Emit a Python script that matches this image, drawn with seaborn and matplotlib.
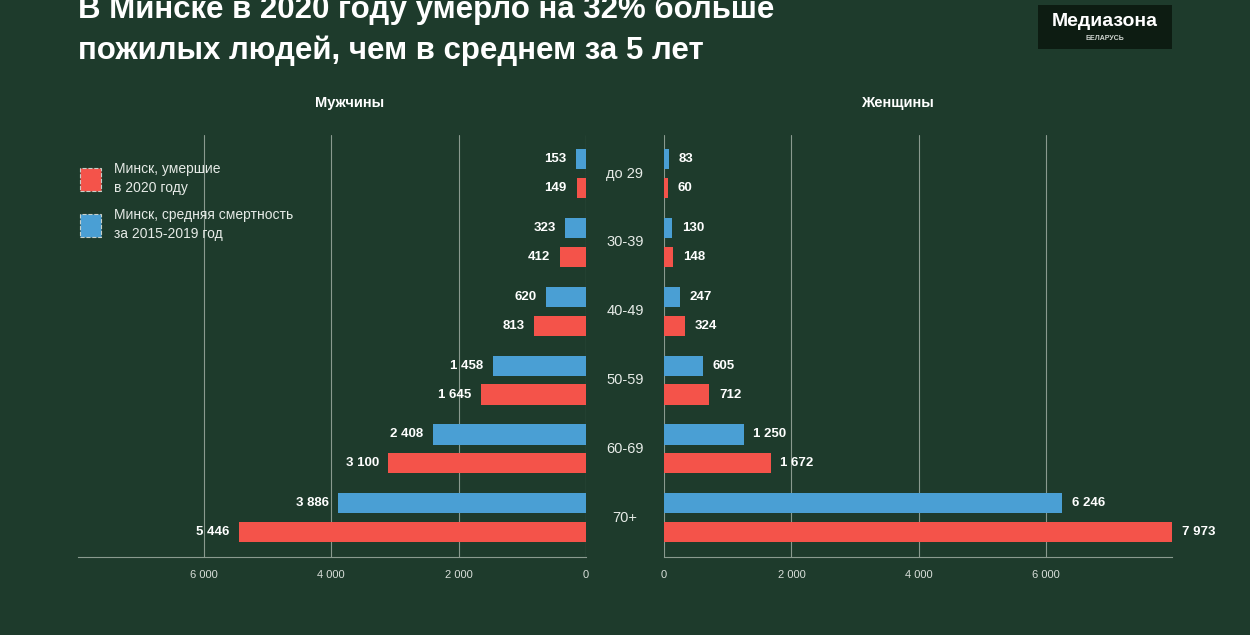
import pandas as pd
import matplotlib.pyplot as plt
import seaborn as sns
from matplotlib.patches import Patch, Rectangle
from matplotlib.ticker import FuncFormatter
from matplotlib.transforms import blended_transform_factory

# data
ages = ['до 29', '30-39', '40-49', '50-59', '60-69', '70+']
men2020 = [149, 412, 813, 1645, 3100, 5446]
menAvg = [153, 323, 620, 1458, 2408, 3886]
women2020 = [60, 148, 324, 712, 1672, 7973]
womenAvg = [83, 130, 247, 605, 1250, 6246]
tickVals = [0, 2000, 4000, 6000]
seriesNames = ['avg', 'y2020']

BG = '#1e3b2c'
RED = '#f4534a'
BLUE = '#4a9fd4'
GRID = '#8a9a8f'

sns.set_theme(style='dark')
plt.rcParams['font.family'] = ['Liberation Sans', 'DejaVu Sans']


def longForm(avg, cur):
    rows = []
    for a, v1, v2 in zip(ages, avg, cur):
        rows.append({'age': a, 'series': 'avg', 'value': v1})
        rows.append({'age': a, 'series': 'y2020', 'value': v2})
    return pd.DataFrame(rows)


dfMen = longForm(menAvg, men2020)
dfWomen = longForm(womenAvg, women2020)

fig = plt.figure(figsize=(12.5, 6.35), dpi=100, facecolor=BG)
W, H = 1250, 635
axL = fig.add_axes([78 / W, (H - 557) / H, 508 / W, 422 / H])
axR = fig.add_axes([664 / W, (H - 557) / H, 508 / W, 422 / H])

fmt = FuncFormatter(lambda v, p: f'{int(v):,}'.replace(',', ' '))
xmax = max(women2020)

for ax, df, side in [(axL, dfMen, 'L'), (axR, dfWomen, 'R')]:
    ax.set_facecolor(BG)
    sns.barplot(data=df, y='age', x='value', hue='series', hue_order=seriesNames,
                palette=[BLUE, RED], orient='h', width=0.84, gap=0.3,
                legend=False, ax=ax, saturation=1, linewidth=0)
    ax.set_xlim(0, xmax)
    ax.set_ylim(5.57, -0.56)
    if side == 'L':
        ax.invert_xaxis()
    ax.set_xticks(tickVals)
    ax.xaxis.set_major_formatter(fmt)
    ax.tick_params(axis='x', colors='#d8ded9', labelsize=8, length=0, pad=9)
    ax.set_yticks([])
    ax.set_xlabel('')
    ax.set_ylabel('')
    ax.grid(axis='x', color=GRID, linewidth=0.8)
    ax.grid(axis='y', visible=False)
    for s in ['top', 'left', 'right']:
        ax.spines[s].set_visible(False)
    ax.spines['bottom'].set_color(GRID)
    ax.spines['bottom'].set_linewidth(0.8)
    for cont in ax.containers:
        labels = [f'{int(b.get_width()):,}'.replace(',', ' ') for b in cont]
        ax.bar_label(cont, labels=labels, padding=7, color='white',
                     fontsize=9.5, fontweight='bold')

# age labels in the middle
tr = blended_transform_factory(fig.transFigure, axL.transData)
for i, a in enumerate(ages):
    axL.text(625 / W, i, a, transform=tr, ha='center', va='center',
             color='#e6ebe7', fontsize=10.5, clip_on=False)

fig.text(350 / W, 1 - 103 / H, 'Мужчины', ha='center', va='center',
         color='white', fontsize=10.5, fontweight='bold')
fig.text(897 / W, 1 - 103 / H, 'Женщины', ha='center', va='center',
         color='white', fontsize=10.5, fontweight='bold')

# title (first line sits at the very top edge, as in the reference)
fig.text(78 / W, 1 - 10 / H, 'В Минске в 2020 году умерло на 32% больше',
         ha='left', va='center', color='white', fontsize=22.5, fontweight='bold')
fig.text(78 / W, 1 - 51 / H, 'пожилых людей, чем в среднем за 5 лет',
         ha='left', va='center', color='white', fontsize=22.5, fontweight='bold')

# logo
fig.add_artist(Rectangle((1038 / W, 1 - 49 / H), 134 / W, 44 / H,
                         transform=fig.transFigure, facecolor='#0d1c12',
                         edgecolor='none'))
fig.text(1105 / W, 1 - 21 / H, 'Медиазона', ha='center', va='center',
         color='white', fontsize=14, fontweight='bold')
fig.text(1105 / W, 1 - 38 / H, 'БЕЛАРУСЬ', ha='center', va='center',
         color='#cfd5d0', fontsize=5, fontweight='bold')

# legend
handles = [Patch(facecolor=RED, edgecolor='#c8d0ca', linestyle='--', linewidth=0.8),
           Patch(facecolor=BLUE, edgecolor='#c8d0ca', linestyle='--', linewidth=0.8)]
leg = fig.legend(handles, ['Минск, умершие\nв 2020 году',
                           'Минск, средняя смертность\nза 2015-2019 год'],
                 loc='upper left', bbox_to_anchor=(67 / W, 1 - 149 / H),
                 frameon=False, fontsize=10, handlelength=1.55, handleheight=2.2,
                 handletextpad=0.9, labelspacing=0.9, labelcolor='#e6ebe7')
plt.setp(leg.get_texts(), linespacing=1.5)

fig.savefig('out.png', dpi=100, facecolor=BG)
